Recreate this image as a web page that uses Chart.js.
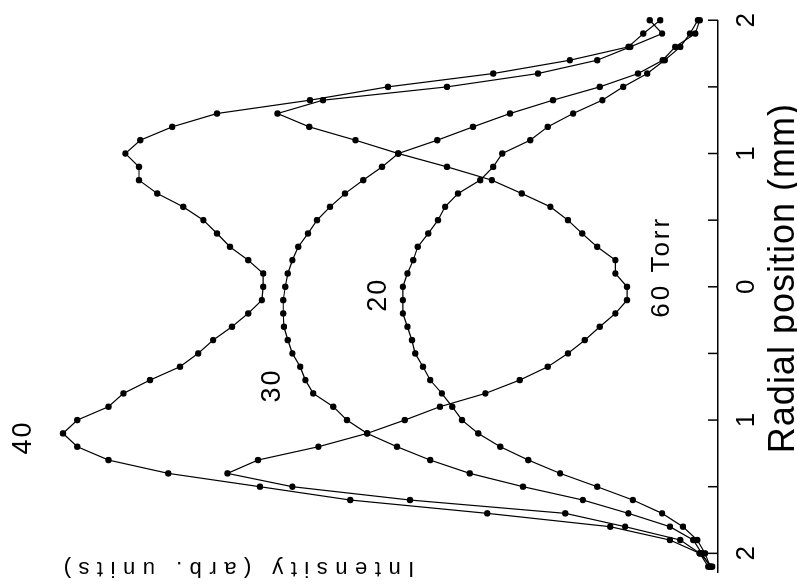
<!DOCTYPE html>
<html>
<head>
<meta charset="utf-8">
<script src="https://cdn.jsdelivr.net/npm/chart.js@4.4.1/dist/chart.umd.min.js"></script>
<style>
  html, body { margin: 0; padding: 0; background: #fff; }
  #wrap { position: relative; width: 797px; height: 588px; overflow: hidden; background: #fff; }
  /* profile is laid out upright, then turned a quarter turn so the radial axis runs up the right side */
  #profile { position: absolute; left: 0; top: 0; transform-origin: 0 0; transform: translate(0, 588px) rotate(-90deg); }
</style>
</head>
<body>
<div id="wrap"><canvas id="profile" width="588" height="797"></canvas></div>
<script>
// radial position of each sample (mm)
const radialPos = [-2.1, -2.0, -1.9, -1.8, -1.7, -1.6, -1.5, -1.4, -1.3, -1.2, -1.1,
                   -1.0, -0.9, -0.8, -0.7, -0.6, -0.5, -0.4, -0.3, -0.2, -0.1,
                    0.0,  0.1,  0.2,  0.3,  0.4,  0.5,  0.6,  0.7,  0.8,  0.9,
                    1.0,  1.1,  1.2,  1.3,  1.4,  1.5,  1.6,  1.7,  1.8,  1.9, 2.0];

// intensity (arb. units) per pressure
const torr40 = [1.5, 2.8, 7.4, 16.6, 35.5, 56.6, 70.5, 84.6, 93.8, 98.6, 100.8,
                98.6, 93.8, 91.5, 87.4, 82.8, 80.0, 77.7, 74.8, 72.3, 70.2,
                70.0, 70.0, 72.3, 75.1, 77.1, 79.2, 82.3, 86.3, 89.1, 89.1,
                91.2, 88.9, 84.0, 77.1, 62.8, 50.8, 34.6, 22.8, 13.8, 11.5, 8.9];
const torr60 = [0.9, 2.8, 5.8, 14.3, 23.5, 47.4, 65.5, 75.5, 70.8, 61.5, 54.0,
                48.2, 42.8, 35.8, 30.5, 26.2, 23.1, 20.5, 18.2, 15.8, 14.0,
                14.0, 15.8, 15.8, 18.6, 20.9, 23.1, 25.8, 30.2, 34.8, 41.7,
                49.2, 55.8, 62.9, 67.8, 60.8, 41.7, 27.7, 18.6, 13.5, 8.6, 10.5];
const torr30 = [1.2, 2.5, 3.8, 7.4, 13.8, 20.8, 30.0, 38.2, 44.3, 49.4, 54.0,
                57.1, 59.2, 62.3, 63.5, 64.3, 65.5, 66.2, 66.8, 66.9, 66.9,
                66.6, 66.2, 65.5, 64.6, 63.1, 61.7, 59.7, 57.4, 54.6, 51.7,
                49.2, 43.2, 37.7, 32.0, 25.4, 18.2, 12.3, 8.5, 6.6, 3.5, 2.8];
const torr20 = [1.2, 2.0, 3.2, 5.4, 8.6, 13.1, 18.6, 24.3, 29.2, 33.5, 36.9,
                39.4, 40.9, 42.5, 44.3, 45.4, 46.6, 47.1, 47.8, 48.5, 48.5,
                48.5, 47.8, 46.9, 46.2, 44.6, 43.1, 42.0, 40.0, 36.6, 34.6,
                33.2, 28.9, 26.2, 22.3, 17.8, 14.6, 10.9, 8.2, 5.8, 4.3, 3.1];

// curve labels, anchored in data units
const curveLabels = ['40', '30', '20', '60 Torr'];
const curveLabelR = [-1.13, -0.74, -0.06, 0.15];
const curveLabelI = [106.8, 68.6, 52.3, 8.6];

const series = [
    { label: '40 Torr', values: torr40 },
    { label: '60 Torr', values: torr60 },
    { label: '30 Torr', values: torr30 },
    { label: '20 Torr', values: torr20 }
];

const FONT = '"Liberation Sans", Arial, Helvetica, sans-serif';

const annotate = {
    id: 'annotate',
    afterDraw(chart) {
        const { ctx, chartArea, scales: { x, y } } = chart;
        ctx.save();

        // tick marks point inward from the axis
        ctx.strokeStyle = '#000';
        ctx.lineWidth = 1.5;
        x.ticks.forEach(t => {
            const p = x.getPixelForValue(t.value);
            ctx.beginPath();
            ctx.moveTo(p, chartArea.bottom);
            ctx.lineTo(p, chartArea.bottom - 10);
            ctx.stroke();
        });

        ctx.fillStyle = '#000';
        ctx.textAlign = 'center';
        ctx.textBaseline = 'middle';
        curveLabels.forEach((txt, i) => {
            ctx.font = (txt.length > 2 ? '26px ' : '27px ') + FONT;
            ctx.letterSpacing = txt.length > 2 ? '3px' : '2px';
            ctx.fillText(txt, x.getPixelForValue(curveLabelR[i]), y.getPixelForValue(curveLabelI[i]));
        });

        // axis titles
        ctx.textBaseline = 'alphabetic';
        ctx.font = '36px ' + FONT;
        ctx.letterSpacing = '1px';
        ctx.fillText('Radial position (mm)', (chartArea.left + chartArea.right) / 2 + 18, chartArea.bottom + 76);

        ctx.translate(chartArea.left + 10, chartArea.top + 232);
        ctx.rotate(-Math.PI / 2);
        ctx.font = '22px ' + FONT;
        ctx.letterSpacing = '7.5px';
        ctx.fillText('Intensity (arb. units)', 0, 0);

        ctx.restore();
    }
};

const ctx = document.getElementById('profile').getContext('2d');
new Chart(ctx, {
    type: 'line',
    data: {
        datasets: series.map(s => ({
            label: s.label,
            data: radialPos.map((r, i) => ({ x: r, y: s.values[i] })),
            borderColor: '#000',
            backgroundColor: '#000',
            borderWidth: 1.2,
            pointRadius: 3.2,
            pointHoverRadius: 3.2,
            pointBorderWidth: 0,
            tension: 0,
            clip: false
        }))
    },
    options: {
        responsive: false,
        animation: false,
        devicePixelRatio: 1,
        layout: { padding: { left: 16, right: 12, top: 3, bottom: 0 } },
        plugins: { legend: { display: false }, tooltip: { enabled: false } },
        scales: {
            x: {
                type: 'linear',
                min: -2.14,
                max: 2.0,
                afterFit: s => { s.height = 79; },
                border: { display: true, color: '#000', width: 1.5 },
                grid: { display: false, drawTicks: false },
                ticks: {
                    stepSize: 0.5,
                    includeBounds: false,
                    autoSkip: false,
                    maxRotation: 0,
                    minRotation: 0,
                    padding: 13,
                    color: '#000',
                    font: { family: FONT, size: 26 },
                    callback: v => Number.isInteger(v) ? String(Math.abs(v)) : ''
                }
            },
            y: { display: false, min: 0, max: 110 }
        }
    },
    plugins: [annotate]
});
</script>
</body>
</html>
